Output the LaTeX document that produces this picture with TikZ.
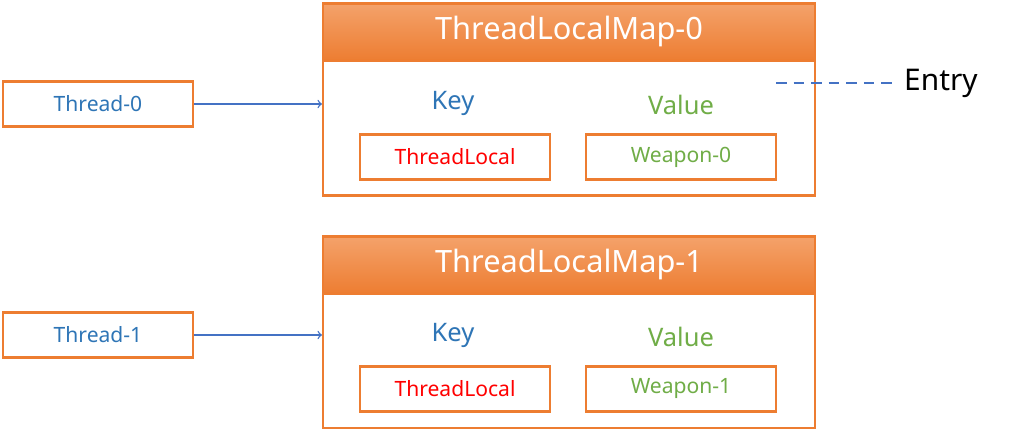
\documentclass[tikz,border=0pt]{standalone}
\usepackage{fontspec}
\setmainfont{Noto Sans}
\definecolor{orng}{HTML}{ED7D31}
\definecolor{orngl}{HTML}{F4A26B}
\definecolor{txtblue}{HTML}{2E75B6}
\definecolor{arrblue}{HTML}{4472C4}
\definecolor{txtgreen}{HTML}{70AD47}
\begin{document}
\begin{tikzpicture}[x=0.02cm,y=-0.02cm,
    box/.style={draw=orng, line width=1.2pt, minimum width=3.8cm, minimum height=0.9cm, font=\fontsize{12}{14}\selectfont},
    head/.style={draw=orng, line width=1.2pt, top color=orngl, bottom color=orng, text=white, minimum width=9.84cm, minimum height=1.14cm, font=\fontsize{17.5}{20}\selectfont},
    body/.style={draw=orng, line width=1.2pt, fill=white, minimum width=9.84cm, minimum height=2.7cm},
    label/.style={font=\fontsize{14.5}{17}\selectfont}]
    \useasboundingbox (0,0) rectangle (1014,429);

    \node[body] (body0) at (569,128) {};
    \node[head] (map0) at (569,32) {ThreadLocalMap-0};
    \node[box, text=txtblue] (thread0) at (98,104) {Thread-0};
    \node[label, text=txtblue] (key0) at (453,103) {Key};
    \node[label, text=txtgreen] (value0) at (681,105) {Value};
    \node[box, text=red] (tl0) at (455,157) {ThreadLocal};
    \node[box, text=txtgreen] (wp0) at (681,157) {Weapon-0};
    \draw[->, arrblue, thick] (thread0) -- (thread0 -| body0.west);

    \coordinate (dash) at (776,83);
    \node[font=\fontsize{17}{20}\selectfont, anchor=west] (entry) at (898,83) {Entry};
    \draw[arrblue, thick, dashed, dash pattern=on 6pt off 4pt] (dash) -- (entry.west);

    \node[body] (body1) at (569,361) {};
    \node[head] (map1) at (569,265) {ThreadLocalMap-1};
    \node[box, text=txtblue] (thread1) at (98,335) {Thread-1};
    \node[label, text=txtblue] (key1) at (453,335) {Key};
    \node[label, text=txtgreen] (value1) at (681,337) {Value};
    \node[box, text=red] (tl1) at (455,389) {ThreadLocal};
    \node[box, text=txtgreen] (wp1) at (681,389) {Weapon-1};
    \draw[->, arrblue, thick] (thread1) -- (thread1 -| body1.west);
\end{tikzpicture}
\end{document}
